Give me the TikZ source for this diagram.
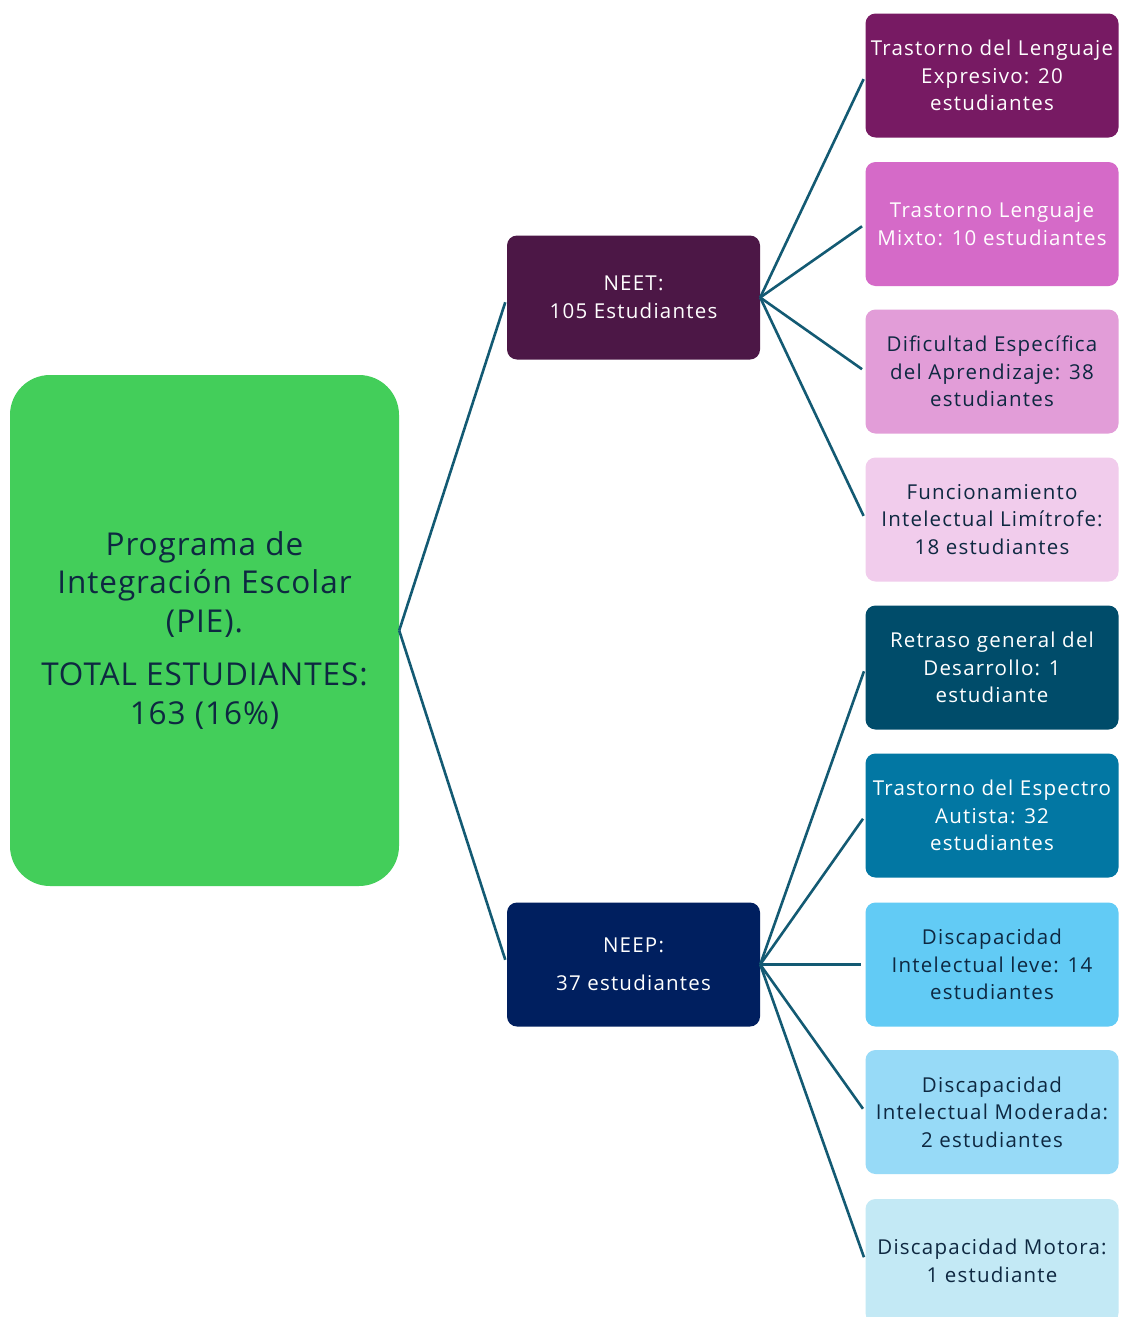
\documentclass[tikz,border=0pt]{standalone}
\usepackage{fontspec}
\setmainfont{Open Sans}
\newfontfamily\leaffont{Open Sans}[LetterSpace=6]
\newfontfamily\rootfont{Open Sans}[LetterSpace=3]
\begin{document}
\begin{tikzpicture}[x=1pt,y=-1pt,
  box/.style={rounded corners=10pt, inner sep=1pt, align=center, minimum width=253pt, font=\leaffont\fontsize{20.5}{27.5}\selectfont},
  leaf/.style={box, minimum width=253pt, minimum height=124pt},
  mid/.style={box, minimum width=253pt, minimum height=124pt},
  conn/.style={draw=linec, line width=2.6pt},
  dk/.style={text=darktext},
  wt/.style={text=white}]
\definecolor{rootg}{HTML}{43CE5A}
\definecolor{darktext}{HTML}{0E2841}
\definecolor{linec}{HTML}{135A73}
\definecolor{neet}{HTML}{4C1746}
\definecolor{neep}{HTML}{001F5F}
\definecolor{la}{HTML}{771A63}
\definecolor{lb}{HTML}{D56AC8}
\definecolor{lc}{HTML}{E29DD8}
\definecolor{ld}{HTML}{F1CCEC}
\definecolor{le}{HTML}{004C6A}
\definecolor{lf}{HTML}{0277A3}
\definecolor{lg}{HTML}{62CBF5}
\definecolor{lh}{HTML}{97DAF7}
\definecolor{li}{HTML}{C3E9F5}
\useasboundingbox[fill=white] (0,0) rectangle (1120,1317);

\node[rounded corners=40pt, fill=rootg, minimum width=389pt, minimum height=511pt, align=center, text=darktext, font=\rootfont\fontsize{31.5}{38.5}\selectfont] (root) at (204.5,630.5)
  {Programa de\\Integración Escolar\\(PIE).\\[15pt]TOTAL ESTUDIANTES:\\163 (16\%)};

\node[mid, fill=neet, wt] (neet) at (633.5,297.5) {NEET:\\105 Estudiantes};
\node[mid, fill=neep, wt, font=\leaffont\fontsize{20.5}{38}\selectfont] (neep) at (633.5,964.5) {NEEP:\\37 estudiantes};

\node[leaf, fill=la, wt] (l1) at (992,75.5) {Trastorno del Lenguaje\\Expresivo: 20\\estudiantes};
\node[leaf, fill=lb, wt] (l2) at (992,224) {Trastorno Lenguaje\\Mixto: 10 estudiantes};
\node[leaf, fill=lc, dk] (l3) at (992,371.5) {Dificultad Específica\\del Aprendizaje: 38\\estudiantes};
\node[leaf, fill=ld, dk] (l4) at (992,519.5) {Funcionamiento\\Intelectual Limítrofe:\\18 estudiantes};
\node[leaf, fill=le, wt] (l5) at (992,667.5) {Retraso general del\\Desarrollo: 1\\estudiante};
\node[leaf, fill=lf, wt] (l6) at (992,815.5) {Trastorno del Espectro\\Autista: 32\\estudiantes};
\node[leaf, fill=lg, dk] (l7) at (992,964.5) {Discapacidad\\Intelectual leve: 14\\estudiantes};
\node[leaf, fill=lh, dk] (l8) at (992,1112) {Discapacidad\\Intelectual Moderada:\\2 estudiantes};
\node[leaf, fill=li, dk] (l9) at (992,1261) {Discapacidad Motora:\\1 estudiante};

\foreach \m in {neet,neep} \draw[conn, shorten >=5pt] (root.east) -- (\m.west);
\foreach \l in {l1,l2,l3,l4} \draw[conn, shorten >=4pt] (neet.east) -- (\l.west);
\foreach \l in {l5,l6,l7,l8,l9} \draw[conn, shorten >=4pt] (neep.east) -- (\l.west);
\end{tikzpicture}
\end{document}
